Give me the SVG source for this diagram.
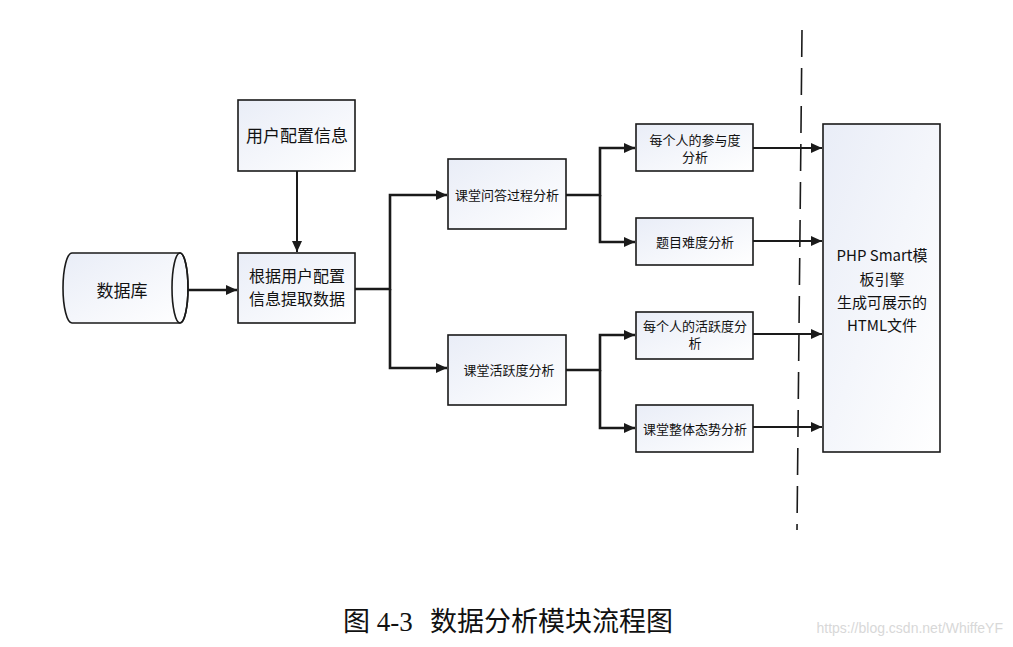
<svg xmlns="http://www.w3.org/2000/svg" width="1013" height="647" viewBox="0 0 1013 647">
<style>
.box{stroke:#1a1a1a;stroke-width:1.6;fill:url(#g)}
.t{font-family:"Noto Sans CJK SC","Noto Sans",sans-serif;fill:#111;text-anchor:middle}
.big{font-size:17px}
.mid{font-size:16px}
.sm{font-size:13px}
.c{fill:none;stroke:#1a1a1a;stroke-width:2.6}
.c2{fill:none;stroke:#1a1a1a;stroke-width:2}
.cap{font-family:"Liberation Serif","Noto Sans CJK SC",serif;font-size:27px;fill:#111}
</style>
<defs>
<linearGradient id="g" x1="0" y1="0" x2="1" y2="1">
<stop offset="0" stop-color="#e9edf7"/>
<stop offset="1" stop-color="#ffffff"/>
</linearGradient>
<marker id="ah" markerUnits="userSpaceOnUse" markerWidth="12" markerHeight="10" refX="11" refY="5" orient="auto">
<path d="M0,0 L11,5 L0,10 Z" fill="#1a1a1a"/>
</marker>
</defs>
<rect width="1013" height="647" fill="#fff"/>

<g id="connectors">
<path class="c2" d="M297,171 V252" marker-end="url(#ah)"/>
<path class="c" d="M188,290 H237" marker-end="url(#ah)"/>
<path class="c" d="M355,289 H390 V195 H447" marker-end="url(#ah)"/>
<path class="c" d="M390,289 V368 H447" marker-end="url(#ah)"/>
<path class="c" d="M566,195 H600 V148 H635" marker-end="url(#ah)"/>
<path class="c" d="M600,195 V242 H635" marker-end="url(#ah)"/>
<path class="c" d="M566,370 H600 V335 H635" marker-end="url(#ah)"/>
<path class="c" d="M600,370 V428 H635" marker-end="url(#ah)"/>
<path class="c2" d="M753,148 H822" marker-end="url(#ah)"/>
<path class="c2" d="M753,241 H822" marker-end="url(#ah)"/>
<path class="c2" d="M753,334 H822" marker-end="url(#ah)"/>
<path class="c2" d="M753,427 H822" marker-end="url(#ah)"/>
<path d="M802,30 L797,530" stroke="#1a1a1a" stroke-width="1.6" stroke-dasharray="27 11" fill="none"/>
</g>

<g id="db">
<path class="box" d="M72,253 H180 A8,35 0 0 1 180,323 H72 A9,35 0 0 1 72,253 Z"/>
<ellipse cx="180" cy="288" rx="8" ry="35" fill="none" stroke="#1a1a1a" stroke-width="1.6"/>
<text class="t big" x="122" y="297">数据库</text>
</g>

<g id="config">
<rect class="box" x="238" y="100" width="117" height="71"/>
<text class="t big" x="297" y="142">用户配置信息</text>
</g>

<g id="extract">
<rect class="box" x="238" y="253" width="117" height="70"/>
<text class="t mid" x="297" y="282">根据用户配置</text>
<text class="t mid" x="297" y="305">信息提取数据</text>
</g>

<g id="qa">
<rect class="box" x="448" y="159" width="118" height="70"/>
<text class="t sm" x="507" y="200">课堂问答过程分析</text>
</g>

<g id="active">
<rect class="box" x="448" y="335" width="118" height="70"/>
<text class="t sm" x="509" y="375">课堂活跃度分析</text>
</g>

<g id="participation">
<rect class="box" x="636" y="124" width="117" height="47"/>
<text class="t sm" x="695" y="145">每个人的参与度</text>
<text class="t sm" x="695" y="162">分析</text>
</g>

<g id="difficulty">
<rect class="box" x="636" y="218" width="117" height="47"/>
<text class="t sm" x="695" y="247">题目难度分析</text>
</g>

<g id="personal-active">
<rect class="box" x="636" y="312" width="117" height="47"/>
<text class="t sm" x="695" y="331">每个人的活跃度分</text>
<text class="t sm" x="695" y="348">析</text>
</g>

<g id="overall">
<rect class="box" x="636" y="405" width="117" height="47"/>
<text class="t sm" x="695" y="434">课堂整体态势分析</text>
</g>

<g id="engine">
<rect class="box" x="823" y="124" width="117" height="328"/>
<text class="t" font-size="15" x="882" y="261">PHP Smart模</text>
<text class="t" font-size="15" x="882" y="285">板引擎</text>
<text class="t" font-size="15" x="882" y="308">生成可展示的</text>
<text class="t" font-size="15" x="882" y="331">HTML文件</text>
</g>

<text class="cap" y="631"><tspan x="343">图 4-3</tspan><tspan x="430">数据分析模块流程图</tspan></text>
<text x="1003" y="633" text-anchor="end" font-family="'Liberation Sans',sans-serif" font-size="14" fill="#d8d8d8">https://blog.csdn.net/WhiffeYF</text>
</svg>
